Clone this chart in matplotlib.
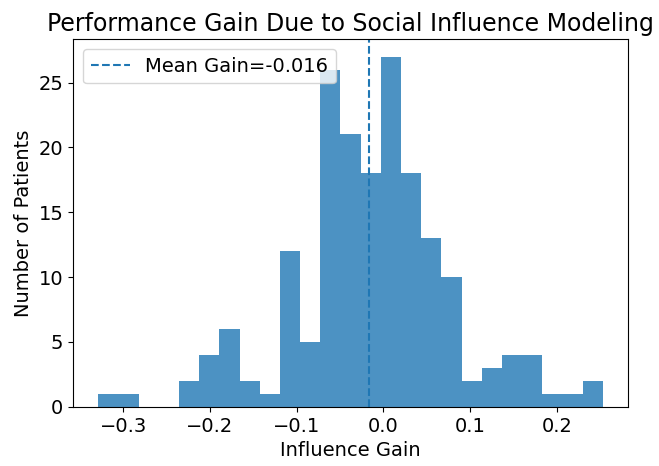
import numpy as np
import matplotlib.pyplot as plt

# histogram of per-patient influence gain (25 bins)
gain_min = -0.3287
gain_max = 0.2531
counts = [1, 1, 0, 0, 2, 4, 6, 2, 1, 12, 5, 26, 21,
          18, 27, 18, 13, 10, 2, 3, 4, 4, 1, 1, 2]
mean_gain = -0.016

edges = np.linspace(gain_min, gain_max, len(counts) + 1)
centers = (edges[:-1] + edges[1:]) / 2

fig, ax = plt.subplots(figsize=(6.59, 4.66), dpi=100)
ax.hist(centers, bins=edges, weights=counts, alpha=0.8)
ax.axvline(mean_gain, linestyle='--', label=f'Mean Gain={mean_gain:.3f}')

ax.set_title('Performance Gain Due to Social Influence Modeling', fontsize=17)
ax.set_xlabel('Influence Gain', fontsize=14)
ax.set_ylabel('Number of Patients', fontsize=14)
ax.tick_params(labelsize=14)
ax.legend(loc='upper left', fontsize=14)

plt.subplots_adjust(left=0.111, right=0.953, top=0.916, bottom=0.127)
plt.savefig('out.png')
